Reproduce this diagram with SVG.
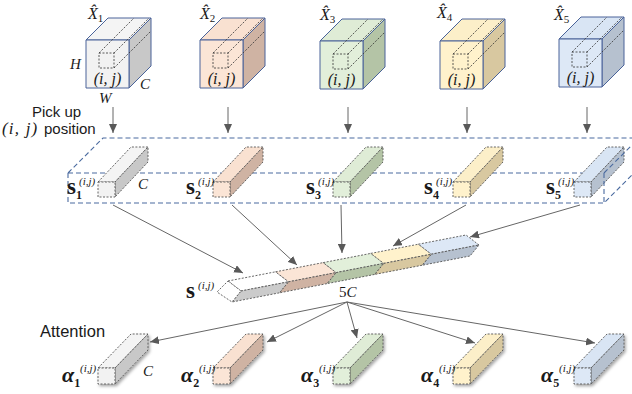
<svg xmlns="http://www.w3.org/2000/svg" width="632" height="394" viewBox="0 0 632 394">
<style>
.m{font-family:"Liberation Serif","DejaVu Serif",serif;font-style:italic;fill:#1a1a1a}
.b{font-family:"Liberation Serif","DejaVu Serif",serif;font-weight:bold;fill:#1a1a1a}
.sn{font-family:"Liberation Sans","Open Sans",sans-serif;fill:#1a1a1a}
.cube{stroke:#4a6399;stroke-width:1;stroke-linejoin:round}
.tun{fill:none;stroke:#333;stroke-width:0.8;stroke-dasharray:2 1.5}
.bar{stroke:#555;stroke-width:0.9;stroke-dasharray:2 1.5;stroke-linejoin:round}
.pl{fill:none;stroke:#4a6a9f;stroke-width:1.1;stroke-dasharray:5 3}
.con{fill:none;stroke:#666;stroke-width:1;marker-end:url(#ah)}
.l1{fill:#f2f2f2}.d1{fill:#c8c8c8}.t1{fill:#f4f4f4}
.l2{fill:#fbe5d6}.d2{fill:#cfb3a3}.t2{fill:#f9e1d1}
.l3{fill:#e2efda}.d3{fill:#b4c4a6}.t3{fill:#dfecd6}
.l4{fill:#fff2cc}.d4{fill:#d8c8a0}.t4{fill:#fcefc9}
.l5{fill:#dde8f6}.d5{fill:#b6c1cf}.t5{fill:#d9e5f4}
</style>
<defs>
<marker id="ah" markerUnits="userSpaceOnUse" markerWidth="10" markerHeight="8" refX="9" refY="4" orient="auto">
<path d="M0,0 L9,4 L0,8 z" fill="#595959"/>
</marker>
<filter id="sh" x="-30%" y="-30%" width="160%" height="160%">
<feDropShadow dx="1.5" dy="2" stdDeviation="1.5" flood-color="#000" flood-opacity="0.35"/>
</filter>
</defs>

<!-- cubes -->
<g id="cube1" transform="translate(86,40)">
<polygon class="cube t1" points="0,0 22,-22 65,-22 43,0"/>
<polygon class="cube d1" points="43,0 65,-22 65,26 43,48"/>
<rect class="cube l1" x="0" y="0" width="43" height="48"/>
<rect class="tun" x="13" y="13" width="15" height="15"/>
<path class="tun" d="M13,13 L48,-22 M28,13 L63,-22 M28,28 L65,-9"/>
<text class="m" x="21.5" y="44" font-size="16" text-anchor="middle">(i, j)</text>
</g>
<g id="cube2" transform="translate(200,40)">
<polygon class="cube t2" points="0,0 22,-22 65,-22 43,0"/>
<polygon class="cube d2" points="43,0 65,-22 65,26 43,48"/>
<rect class="cube l2" x="0" y="0" width="43" height="48"/>
<rect class="tun" x="13" y="13" width="15" height="15"/>
<path class="tun" d="M13,13 L48,-22 M28,13 L63,-22 M28,28 L65,-9"/>
<text class="m" x="21.5" y="44" font-size="16" text-anchor="middle">(i, j)</text>
</g>
<g id="cube3" transform="translate(320,41)">
<polygon class="cube t3" points="0,0 22,-22 65,-22 43,0"/>
<polygon class="cube d3" points="43,0 65,-22 65,26 43,48"/>
<rect class="cube l3" x="0" y="0" width="43" height="48"/>
<rect class="tun" x="13" y="13" width="15" height="15"/>
<path class="tun" d="M13,13 L48,-22 M28,13 L63,-22 M28,28 L65,-9"/>
<text class="m" x="21.5" y="44" font-size="16" text-anchor="middle">(i, j)</text>
</g>
<g id="cube4" transform="translate(440,41)">
<polygon class="cube t4" points="0,0 22,-22 65,-22 43,0"/>
<polygon class="cube d4" points="43,0 65,-22 65,26 43,48"/>
<rect class="cube l4" x="0" y="0" width="43" height="48"/>
<rect class="tun" x="13" y="13" width="15" height="15"/>
<path class="tun" d="M13,13 L48,-22 M28,13 L63,-22 M28,28 L65,-9"/>
<text class="m" x="21.5" y="44" font-size="16" text-anchor="middle">(i, j)</text>
</g>
<g id="cube5" transform="translate(559,39)">
<polygon class="cube t5" points="0,0 22,-22 65,-22 43,0"/>
<polygon class="cube d5" points="43,0 65,-22 65,26 43,48"/>
<rect class="cube l5" x="0" y="0" width="43" height="48"/>
<rect class="tun" x="13" y="13" width="15" height="15"/>
<path class="tun" d="M13,13 L48,-22 M28,13 L63,-22 M28,28 L65,-9"/>
<text class="m" x="21.5" y="44" font-size="16" text-anchor="middle">(i, j)</text>
</g>

<g id="cube-labels">
<text class="m" x="88" y="19" font-size="16">X̂<tspan font-size="11" font-style="normal" dy="3">1</tspan></text>
<text class="m" x="200" y="19" font-size="16">X̂<tspan font-size="11" font-style="normal" dy="3">2</tspan></text>
<text class="m" x="320" y="20" font-size="16">X̂<tspan font-size="11" font-style="normal" dy="3">3</tspan></text>
<text class="m" x="437" y="18" font-size="16">X̂<tspan font-size="11" font-style="normal" dy="3">4</tspan></text>
<text class="m" x="554" y="20" font-size="16">X̂<tspan font-size="11" font-style="normal" dy="3">5</tspan></text>
<text class="m" x="70" y="69" font-size="15">H</text>
<text class="m" x="140" y="89" font-size="15">C</text>
<text class="m" x="99" y="103" font-size="15">W</text>
</g>

<g id="pickup-label">
<text class="sn" x="32" y="117" font-size="15">Pick up</text>
<text class="m" x="2" y="134" font-size="17" letter-spacing="1.2">(i, j)</text>
<text class="sn" x="44" y="134" font-size="15">position</text>
</g>

<!-- plane -->
<g id="plane">
<path class="pl" d="M68,173 L103,138 L632,138 M68,173 L604,173 M68,173 L68,203 L604,203"/>
</g>

<!-- s bars -->
<g id="s1" transform="translate(98,182)">
<polygon class="bar t1" points="0,0 33,-35 50,-35 17,0"/>
<polygon class="bar d1" points="17,0 50,-35 50,-20 17,15"/>
<rect class="bar l1" x="0" y="0" width="17" height="15"/>
</g>
<g id="s2" transform="translate(213,182)">
<polygon class="bar t2" points="0,0 33,-35 50,-35 17,0"/>
<polygon class="bar d2" points="17,0 50,-35 50,-20 17,15"/>
<rect class="bar l2" x="0" y="0" width="17" height="15"/>
</g>
<g id="s3" transform="translate(333,182)">
<polygon class="bar t3" points="0,0 33,-35 50,-35 17,0"/>
<polygon class="bar d3" points="17,0 50,-35 50,-20 17,15"/>
<rect class="bar l3" x="0" y="0" width="17" height="15"/>
</g>
<g id="s4" transform="translate(453,182)">
<polygon class="bar t4" points="0,0 33,-35 50,-35 17,0"/>
<polygon class="bar d4" points="17,0 50,-35 50,-20 17,15"/>
<rect class="bar l4" x="0" y="0" width="17" height="15"/>
</g>
<g id="s5" transform="translate(574,182)">
<polygon class="bar t5" points="0,0 33,-35 50,-35 17,0"/>
<polygon class="bar d5" points="17,0 50,-35 50,-20 17,15"/>
<rect class="bar l5" x="0" y="0" width="17" height="15"/>
</g>
<path class="pl" d="M604,173 L639,138 M604,173 L604,203 L639,168"/>

<g id="s-labels">
<text class="b" x="67" y="194" font-size="23">s<tspan font-size="12" dy="5">1</tspan></text>
<text class="m" x="79" y="185" font-size="11">(i,j)</text>
<text class="b" x="186" y="194" font-size="23">s<tspan font-size="12" dy="5">2</tspan></text>
<text class="m" x="198" y="185" font-size="11">(i,j)</text>
<text class="b" x="306" y="194" font-size="23">s<tspan font-size="12" dy="5">3</tspan></text>
<text class="m" x="318" y="185" font-size="11">(i,j)</text>
<text class="b" x="424" y="194" font-size="23">s<tspan font-size="12" dy="5">4</tspan></text>
<text class="m" x="436" y="185" font-size="11">(i,j)</text>
<text class="b" x="546" y="194" font-size="23">s<tspan font-size="12" dy="5">5</tspan></text>
<text class="m" x="558" y="185" font-size="11">(i,j)</text>
<text class="m" x="138" y="189" font-size="15">C</text>
</g>

<!-- concatenated bar -->
<g id="concat">
<polygon class="bar" fill="#ffffff" points="228,281 275.6,271.8 288.6,281.8 241,291"/>
<polygon class="bar" fill="#cbcbcb" points="241,291 288.6,281.8 279.6,292.8 232,302"/>
<polygon class="bar l2" points="275.6,271.8 323.2,262.6 336.2,272.6 288.6,281.8"/>
<polygon class="bar d2" points="288.6,281.8 336.2,272.6 327.2,283.6 279.6,292.8"/>
<polygon class="bar l3" points="323.2,262.6 370.8,253.4 383.8,263.4 336.2,272.6"/>
<polygon class="bar d3" points="336.2,272.6 383.8,263.4 374.8,274.4 327.2,283.6"/>
<polygon class="bar l4" points="370.8,253.4 418.4,244.2 431.4,254.2 383.8,263.4"/>
<polygon class="bar d4" points="383.8,263.4 431.4,254.2 422.4,265.2 374.8,274.4"/>
<polygon class="bar l5" points="418.4,244.2 466,235 479,245 431.4,254.2"/>
<polygon class="bar d5" points="431.4,254.2 479,245 470,256 422.4,265.2"/>
<polygon class="bar" fill="#ffffff" points="228,281 241,291 232,302 217,292"/>
<text class="b" x="186" y="298" font-size="23">s</text>
<text class="m" x="198" y="289" font-size="11">(i,j)</text>
<text x="339" y="297" font-size="15"><tspan font-family="Liberation Serif" fill="#1a1a1a">5</tspan><tspan class="m">C</tspan></text>
</g>

<!-- connectors -->
<g id="connectors">
<line class="con" x1="113" y1="107" x2="113" y2="133"/>
<line class="con" x1="228" y1="107" x2="228" y2="133"/>
<line class="con" x1="348" y1="107" x2="348" y2="133"/>
<line class="con" x1="467" y1="107" x2="467" y2="133"/>
<line class="con" x1="587" y1="107" x2="587" y2="133"/>
<line class="con" x1="113" y1="205" x2="243" y2="273"/>
<line class="con" x1="232" y1="205" x2="297" y2="265"/>
<line class="con" x1="341" y1="205" x2="342" y2="253"/>
<line class="con" x1="466" y1="205" x2="393" y2="246"/>
<line class="con" x1="580" y1="205" x2="470" y2="237"/>
<line class="con" x1="347" y1="302" x2="150" y2="342"/>
<line class="con" x1="347" y1="302" x2="267" y2="342"/>
<line class="con" x1="347" y1="302" x2="357" y2="338"/>
<line class="con" x1="347" y1="302" x2="475" y2="343"/>
<line class="con" x1="347" y1="302" x2="595" y2="343"/>
</g>

<!-- attention bars -->
<g id="a1" transform="translate(98,368)" filter="url(#sh)">
<polygon class="bar t1" points="0,0 33,-34 50,-34 17,0"/>
<polygon class="bar d1" points="17,0 50,-34 50,-18 17,16"/>
<rect class="bar l1" x="0" y="0" width="17" height="16"/>
</g>
<g id="a2" transform="translate(213,368)" filter="url(#sh)">
<polygon class="bar t2" points="0,0 33,-34 50,-34 17,0"/>
<polygon class="bar d2" points="17,0 50,-34 50,-18 17,16"/>
<rect class="bar l2" x="0" y="0" width="17" height="16"/>
</g>
<g id="a3" transform="translate(333,368)" filter="url(#sh)">
<polygon class="bar t3" points="0,0 33,-34 50,-34 17,0"/>
<polygon class="bar d3" points="17,0 50,-34 50,-18 17,16"/>
<rect class="bar l3" x="0" y="0" width="17" height="16"/>
</g>
<g id="a4" transform="translate(453,368)" filter="url(#sh)">
<polygon class="bar t4" points="0,0 33,-34 50,-34 17,0"/>
<polygon class="bar d4" points="17,0 50,-34 50,-18 17,16"/>
<rect class="bar l4" x="0" y="0" width="17" height="16"/>
</g>
<g id="a5" transform="translate(574,368)" filter="url(#sh)">
<polygon class="bar t5" points="0,0 33,-34 50,-34 17,0"/>
<polygon class="bar d5" points="17,0 50,-34 50,-18 17,16"/>
<rect class="bar l5" x="0" y="0" width="17" height="16"/>
</g>

<g id="a-labels">
<text class="sn" x="40" y="337" font-size="16.5">Attention</text>
<text class="b" x="62" y="382" font-size="22" font-style="italic">α<tspan font-size="12" font-style="normal" dy="5">1</tspan></text>
<text class="m" x="80" y="372" font-size="11">(i,j)</text>
<text class="b" x="181" y="382" font-size="22" font-style="italic">α<tspan font-size="12" font-style="normal" dy="5">2</tspan></text>
<text class="m" x="199" y="372" font-size="11">(i,j)</text>
<text class="b" x="301" y="382" font-size="22" font-style="italic">α<tspan font-size="12" font-style="normal" dy="5">3</tspan></text>
<text class="m" x="319" y="372" font-size="11">(i,j)</text>
<text class="b" x="421" y="382" font-size="22" font-style="italic">α<tspan font-size="12" font-style="normal" dy="5">4</tspan></text>
<text class="m" x="439" y="372" font-size="11">(i,j)</text>
<text class="b" x="541" y="382" font-size="22" font-style="italic">α<tspan font-size="12" font-style="normal" dy="5">5</tspan></text>
<text class="m" x="559" y="372" font-size="11">(i,j)</text>
<text class="m" x="143" y="376" font-size="15">C</text>
</g>
</svg>
